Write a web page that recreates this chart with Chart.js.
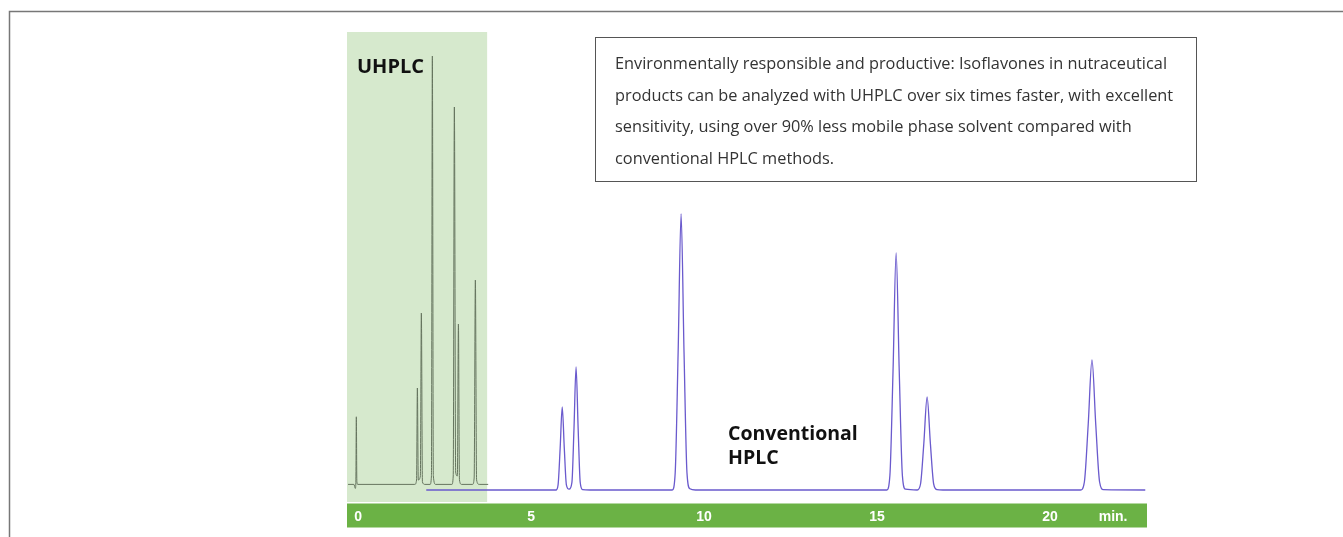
<!DOCTYPE html>
<html>
<head>
<meta charset="utf-8">
<script src="https://cdn.jsdelivr.net/npm/chart.js@4"></script>
<style>
  html, body { margin: 0; padding: 0; background: #fff; }
  canvas { display: block; }
</style>
</head>
<body>
<canvas id="chrom" width="1343" height="537"></canvas>
<script>
'use strict';

// ── Data (time in min, signal in arbitrary units) ────────────────────────────

const xTickValues = [0, 5, 10, 15, 20, 21.82];
const xTickLabels = ['0', '5', '10', '15', '20', 'min.'];

const uhplcWindowEnd = 3.73; // shaded UHPLC run time

const uhplcTime = [-0.29, -0.12, -0.08, -0.065, -0.05, -0.035, -0.01,
  1.64, 1.69, 1.714, 1.74, 1.80, 1.829, 1.86, 1.93,
  2.08, 2.12, 2.147, 2.175, 2.24,
  2.71, 2.75, 2.783, 2.82, 2.87, 2.90, 2.93, 2.99,
  3.31, 3.355, 3.39, 3.425, 3.50, 3.76];
const uhplcSignal = [3.9, 3.9, 2.9, 4.0, 20.8, 4.6, 3.9,
  3.9, 5.0, 28.0, 5.0, 6.0, 46.75, 4.5, 3.9,
  3.9, 6.0, 111.0, 6.0, 3.9,
  3.9, 6.0, 98.25, 7.0, 6.0, 44.0, 5.0, 3.9,
  3.9, 5.5, 55.0, 5.0, 3.9, 3.9];

const hplcTime = [1.97,
  5.72, 5.78, 5.84, 5.90, 5.96, 6.02,
  6.10, 6.18, 6.24, 6.30, 6.36, 6.42, 6.49, 6.70,
  9.08, 9.165, 9.25, 9.335, 9.42, 9.505, 9.59, 9.75,
  15.28, 15.37, 15.46, 15.55, 15.64, 15.73, 15.82,
  16.16, 16.255, 16.35, 16.445, 16.54, 16.635, 16.73, 16.90,
  20.88, 20.99, 21.10, 21.21, 21.32, 21.43, 21.54, 22.75];
const hplcSignal = [2.5,
  2.5, 3.8, 12.9, 23.25, 12.9, 3.8,
  2.7, 4.4, 17.9, 33.25, 17.9, 4.4, 2.6, 2.5,
  2.5, 6.8, 37.0, 71.5, 37.0, 6.8, 2.8, 2.5,
  2.5, 6.2, 32.1, 61.75, 32.1, 6.2, 2.7,
  2.5, 4.0, 14.1, 25.75, 14.1, 4.0, 2.6, 2.5,
  2.5, 4.5, 18.75, 35.0, 18.75, 4.5, 2.6, 2.5];

const noteLines = [
  'Environmentally responsible and productive: Isoflavones in nutraceutical',
  'products can be analyzed with UHPLC over six times faster, with excellent',
  'sensitivity, using over 90% less mobile phase solvent compared with',
  'conventional HPLC methods.',
];

// ── Helpers ───────────────────────────────────────────────────────────────────

function toPoints(xs, ys) {
  return xs.map((x, i) => ({ x, y: ys[i] }));
}

// ── Decoration plugin: frame, shaded window, axis bar, labels ─────────────────

const decor = {
  id: 'decor',
  beforeDraw(chart) {
    const { ctx, chartArea: a, scales: { x } } = chart;
    ctx.save();
    // outer frame (only top and left edges visible)
    ctx.strokeStyle = '#777';
    ctx.lineWidth = 1.5;
    ctx.beginPath();
    ctx.moveTo(9.5, 537);
    ctx.lineTo(9.5, 11.5);
    ctx.lineTo(1343, 11.5);
    ctx.stroke();
    // UHPLC window
    ctx.fillStyle = '#d6e9cd';
    const xe = x.getPixelForValue(uhplcWindowEnd);
    ctx.fillRect(a.left, a.top, xe - a.left, a.bottom + 2 - a.top);
    // green axis bar
    ctx.fillStyle = '#6bb245';
    ctx.fillRect(a.left, a.bottom + 3.5, a.right - a.left, 24);
    ctx.restore();
  },
  afterDraw(chart) {
    const { ctx } = chart;
    ctx.save();
    // note box
    ctx.fillStyle = '#fff';
    ctx.fillRect(595.5, 37.5, 601, 144);
    ctx.strokeStyle = '#555';
    ctx.lineWidth = 1;
    ctx.strokeRect(595.5, 37.5, 601, 144);
    ctx.fillStyle = '#333';
    ctx.font = '16.5px "Open Sans"';
    ctx.textBaseline = 'alphabetic';
    const sx = 552 / ctx.measureText(noteLines[0]).width;
    noteLines.forEach((line, i) => {
      ctx.save();
      ctx.translate(615, 69 + i * 31.5);
      ctx.scale(sx, 1);
      ctx.fillText(line, 0, 0);
      ctx.restore();
    });
    // method labels
    ctx.fillStyle = '#111';
    ctx.font = 'bold 20px "Open Sans"';
    ctx.fillText('UHPLC', 357, 73);
    ctx.font = 'bold 19.5px "Open Sans"';
    ctx.fillText('Conventional', 728, 440);
    ctx.fillText('HPLC', 728, 464);
    ctx.restore();
  },
};

// ── Chart ─────────────────────────────────────────────────────────────────────

new Chart(document.getElementById('chrom'), {
  type: 'line',
  data: {
    datasets: [
      {
        label: 'UHPLC',
        data: toPoints(uhplcTime, uhplcSignal),
        borderColor: '#66755f',
        borderWidth: 1,
        pointRadius: 0,
        fill: false,
        cubicInterpolationMode: 'monotone',
      },
      {
        label: 'Conventional HPLC',
        data: toPoints(hplcTime, hplcSignal),
        borderColor: '#6a5acd',
        borderWidth: 1.3,
        pointRadius: 0,
        fill: false,
        cubicInterpolationMode: 'monotone',
      },
    ],
  },
  options: {
    responsive: false,
    animation: false,
    layout: { padding: { left: 347, right: 196, top: 32, bottom: 0 } },
    scales: {
      x: {
        type: 'linear',
        min: -0.32,
        max: 22.8,
        grid: { display: false },
        border: { display: false },
        afterBuildTicks(scale) {
          scale.ticks = xTickValues.map(v => ({ value: v }));
        },
        afterFit(scale) { scale.height = 37; },
        ticks: {
          autoSkip: false,
          maxRotation: 0,
          padding: 1,
          color: '#fff',
          font: { family: '"Liberation Sans", Arial', size: 14, weight: 'bold' },
          callback: (v, i) => xTickLabels[i],
        },
      },
      y: { display: false, min: 0, max: 117 },
    },
    plugins: {
      legend: { display: false },
      tooltip: { enabled: false },
    },
  },
  plugins: [decor],
});
</script>
</body>
</html>
